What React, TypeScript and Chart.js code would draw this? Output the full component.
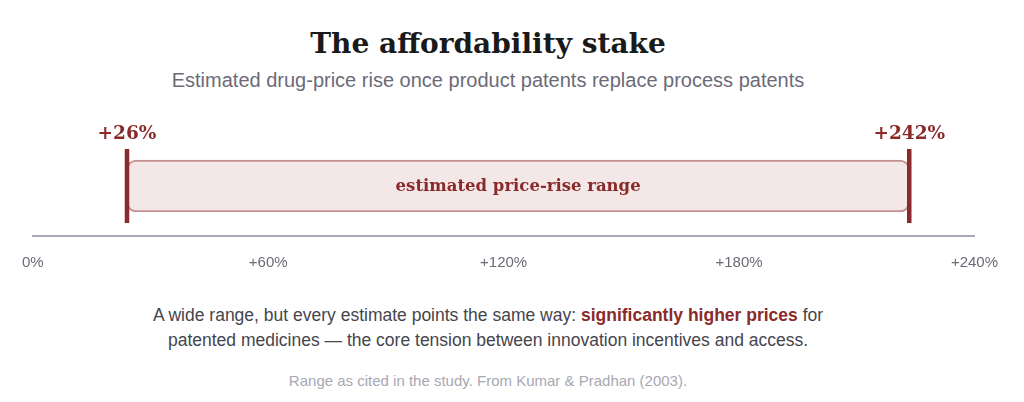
import React, { useEffect, useRef } from "react";
import { Chart, registerables } from "chart.js";

Chart.register(...registerables);

// ---- data ----
const categories = ["range"];
const rangeBounds = [26, 242]; // estimated price rise, %
const axisTickValues = [0, 60, 120, 180, 240];
const rangeLabel = "estimated price-rise range";

const RED = "#8b2a2a";
const SERIF = "'DejaVu Serif', Georgia, serif";
const SANS = "'Liberation Sans', Arial, Helvetica, sans-serif";

const fmtPct = (v: number) => (v === 0 ? "0%" : `+${v}%`);

const labelsPlugin = {
  id: "rangeLabels",
  afterDatasetsDraw(chart: any) {
    const xs = chart.scales.xd;
    const ys = chart.scales.y;
    const ctx = chart.ctx;
    const yc = ys.getPixelForValue(0);
    ctx.save();
    ctx.fillStyle = RED;
    ctx.textAlign = "center";
    ctx.textBaseline = "middle";
    ctx.font = `bold 18.5px ${SERIF}`;
    rangeBounds.forEach((v) => {
      ctx.fillText(fmtPct(v), xs.getPixelForValue(v), yc - 52);
    });
    ctx.font = `bold 16.5px ${SERIF}`;
    const mid = (rangeBounds[0] + rangeBounds[1]) / 2;
    ctx.fillText(rangeLabel, xs.getPixelForValue(mid), yc + 1);
    ctx.restore();
  },
};

function RangeChart() {
  const ref = useRef<HTMLCanvasElement | null>(null);
  useEffect(() => {
    if (!ref.current) return;
    const chart = new Chart(ref.current, {
      type: "bar",
      data: {
        labels: categories,
        datasets: [
          {
            type: "line",
            data: rangeBounds.map((v) => ({ x: v, y: categories[0] })),
            xAxisID: "xd",
            yAxisID: "y",
            showLine: false,
            pointStyle: "line",
            rotation: 90,
            radius: 37,
            hoverRadius: 37,
            borderWidth: 4.5,
            borderColor: RED,
            backgroundColor: RED,
            order: 0,
          } as any,
          {
            type: "bar",
            data: [rangeBounds as any],
            xAxisID: "xd",
            yAxisID: "y",
            backgroundColor: "#f3e7e7",
            borderColor: "#c49292",
            borderWidth: 2,
            borderSkipped: false,
            borderRadius: 9,
            barThickness: 52,
            order: 1,
          } as any,
        ],
      },
      options: {
        indexAxis: "y",
        animation: false,
        responsive: false,
        events: [],
        layout: { autoPadding: false, padding: { left: 20, right: 38, top: 26, bottom: 10 } },
        plugins: { legend: { display: false }, tooltip: { enabled: false } },
        scales: {
          y: { type: "category", display: false },
          xd: { type: "linear", position: "bottom", min: 0, max: 260, display: false },
          x: {
            type: "linear",
            position: "bottom",
            min: 0,
            max: 240,
            grid: { display: false, drawTicks: false },
            border: { display: true, color: "#a9a9b2", width: 2 },
            afterBuildTicks: (axis: any) => {
              axis.ticks = axisTickValues.map((v) => ({ value: v }));
            },
            ticks: {
              color: "#6b6b78",
              font: { family: SANS, size: 15 },
              padding: 18,
              callback: (v: any) => fmtPct(Number(v)),
            },
          },
        },
      } as any,
      plugins: [labelsPlugin],
    });
    return () => chart.destroy();
  }, []);
  return <canvas ref={ref} width={1012} height={190} style={{ display: "block" }} />;
}

export default function App() {
  return (
    <div style={{ position: "relative", width: 1008, height: 394, fontFamily: SANS }}>
      <div
        style={{
          position: "absolute",
          top: 18,
          left: 0,
          width: 960,
          textAlign: "center",
          fontFamily: SERIF,
          fontWeight: "bold",
          fontSize: 28,
          lineHeight: "36px",
          color: "#1a1a1a",
        }}
      >
        The affordability stake
      </div>
      <div
        style={{
          position: "absolute",
          top: 60,
          left: 0,
          width: 960,
          textAlign: "center",
          fontSize: 20,
          lineHeight: "24px",
          color: "#6b6b78",
        }}
      >
        Estimated drug-price rise once product patents replace process patents
      </div>
      <div style={{ position: "absolute", top: 102, left: -4 }}>
        <RangeChart />
      </div>
      <div
        style={{
          position: "absolute",
          top: 295,
          left: 0,
          width: 960,
          textAlign: "center",
          fontSize: 17.5,
          lineHeight: "25px",
          color: "#45454d",
        }}
      >
        A wide range, but every estimate points the same way:{" "}
        <span style={{ color: RED, fontWeight: "bold" }}>significantly higher prices</span> for
        <br />
        patented medicines — the core tension between innovation incentives and access.
      </div>
      <div
        style={{
          position: "absolute",
          top: 363,
          left: 0,
          width: 960,
          textAlign: "center",
          fontSize: 15,
          lineHeight: "20px",
          color: "#a8a8b3",
        }}
      >
        Range as cited in the study. From Kumar &amp; Pradhan (2003).
      </div>
    </div>
  );
}
